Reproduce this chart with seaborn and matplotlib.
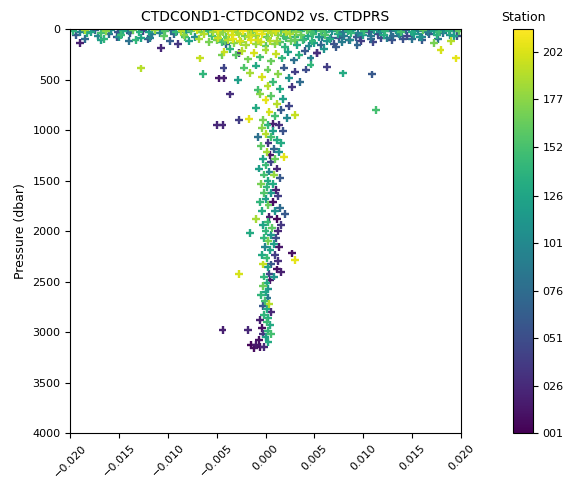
import numpy as np
import pandas as pd
import matplotlib
matplotlib.use("Agg")
import matplotlib.pyplot as plt
import seaborn as sns
from matplotlib.colors import Normalize
from matplotlib.cm import ScalarMappable

# ---- Surface layer (0-40 dbar) ----
surf_diff = [-0.0197, -0.0190, -0.0185, -0.0179, -0.0174, -0.0168, -0.0163, -0.0158, -0.0151, -0.0146,
             -0.0140, -0.0136, -0.0129, -0.0125, -0.0119, -0.0113, -0.0108, -0.0103, -0.0097, -0.0092,
             -0.0086, -0.0081, -0.0076, -0.0070, -0.0066, -0.0059, -0.0054, -0.0049, -0.0044, -0.0038,
             -0.0033, -0.0029, -0.0023, -0.0018, -0.0013, -0.0009, -0.0003, 0.0002, 0.0006, 0.0011,
             0.0016, 0.0021, 0.0026, 0.0031, 0.0036, 0.0042, 0.0047, 0.0052, 0.0057, 0.0062,
             0.0068, 0.0073, 0.0079, 0.0084, 0.0089, 0.0095, 0.0101, 0.0106, 0.0111, 0.0117,
             0.0122, 0.0128, 0.0133, 0.0139, 0.0144, 0.0150, 0.0156, 0.0161, 0.0166, 0.0172,
             0.0177, 0.0183, 0.0188, 0.0193, 0.0198]
surf_pres = [18, 30, 12, 25, 8, 34, 20, 10, 28, 15,
             22, 9, 31, 17, 26, 12, 35, 19, 8, 27,
             14, 30, 21, 10, 33, 16, 24, 7, 29, 18,
             12, 26, 20, 9, 31, 15, 23, 11, 28, 17,
             8, 25, 14, 32, 19, 10, 27, 13, 22, 30,
             16, 9, 26, 20, 12, 34, 18, 24, 10, 29,
             15, 21, 8, 27, 13, 33, 19, 11, 25, 17,
             30, 12, 22, 9, 20]
surf_stn = [140, 95, 185, 120, 70, 150, 175, 110, 60, 130,
            90, 165, 135, 45, 120, 180, 100, 155, 75, 140,
            190, 115, 160, 200, 170, 145, 185, 205, 175, 195,
            200, 180, 210, 190, 165, 205, 185, 195, 175, 200,
            160, 190, 145, 175, 130, 165, 150, 120, 155, 140,
            110, 150, 85, 135, 120, 95, 145, 60, 125, 105,
            140, 80, 115, 150, 70, 130, 100, 160, 90, 120,
            145, 110, 135, 80, 160]

# ---- Mixed layer (40-90 dbar) ----
mix_diff = [-0.0194, -0.0183, -0.0171, -0.0160, -0.0148, -0.0139, -0.0127, -0.0116, -0.0104, -0.0094,
            -0.0083, -0.0072, -0.0063, -0.0055, -0.0047, -0.0040, -0.0034, -0.0027, -0.0021, -0.0015,
            -0.0010, -0.0004, 0.0001, 0.0007, 0.0013, 0.0019, 0.0025, 0.0030, 0.0036, 0.0043,
            0.0049, 0.0055, 0.0061, 0.0067, 0.0074, 0.0080, 0.0087, 0.0093, 0.0100, 0.0108,
            0.0115, 0.0121, 0.0130, 0.0137, 0.0145, 0.0152, 0.0160, 0.0167, 0.0175, 0.0182,
            0.0189, 0.0196]
mix_pres = [55, 42, 70, 48, 62, 40, 85, 52, 66, 45,
            58, 75, 44, 68, 52, 80, 60, 47, 72, 55,
            64, 50, 78, 42, 60, 70, 48, 82, 56, 66,
            46, 74, 58, 88, 50, 64, 42, 76, 54, 68,
            48, 60, 72, 44, 66, 52, 80, 46, 62, 40,
            56, 70]
mix_stn = [60, 130, 100, 80, 145, 55, 125, 90, 160, 70,
           175, 105, 190, 150, 180, 165, 200, 185, 170, 195,
           180, 205, 160, 190, 175, 150, 185, 140, 165, 130,
           145, 110, 155, 70, 125, 90, 140, 60, 115, 85,
           50, 130, 75, 105, 45, 120, 95, 65, 135, 80,
           110, 55]

# ---- Base of mixed layer (70-130 dbar) ----
base_diff = [-0.0185, -0.0168, -0.0152, -0.0133, -0.0118, -0.0098, -0.0082, -0.0068, -0.0058, -0.0049,
             -0.0041, -0.0033, -0.0025, -0.0017, -0.0008, 0.0003, 0.0012, 0.0021, 0.0030, 0.0039,
             0.0048, 0.0058, 0.0066, 0.0075, 0.0086, 0.0097, 0.0108, 0.0124, 0.0141, 0.0158,
             0.0176, 0.0193]
base_pres = [95, 110, 80, 105, 90, 115, 75, 100, 130, 85,
             115, 95, 125, 80, 110, 90, 120, 85, 105, 95,
             115, 80, 100, 90, 110, 75, 95, 85, 100, 80,
             95, 70]
base_stn = [75, 120, 55, 140, 95, 65, 150, 185, 170, 195,
            160, 205, 180, 190, 200, 175, 185, 150, 165, 120,
            140, 85, 130, 60, 100, 45, 70, 90, 55, 110,
            85, 120]

# ---- Upper thermocline (90-950 dbar) ----
therm_diff = [-0.0050, -0.0045, -0.0038, -0.0032, -0.0026, -0.0020, -0.0015, -0.0010, -0.0005, 0.0000,
              0.0005, 0.0010, 0.0015, 0.0020, 0.0026, 0.0032, 0.0038, 0.0044, 0.0050, 0.0057,
              0.0063, 0.0070, 0.0078, 0.0085,
              -0.0036, -0.0030, -0.0024, -0.0018, -0.0012, -0.0006, 0.0000, 0.0006, 0.0011, 0.0017,
              0.0023, 0.0029, 0.0034, 0.0040, 0.0046, 0.0053, 0.0060, -0.0045,
              -0.0022, -0.0016, -0.0010, -0.0004, 0.0002, 0.0008, 0.0013, 0.0019, 0.0024, 0.0030,
              0.0035, 0.0041, -0.0028, 0.0002, 0.0015, -0.0008, 0.0027, 0.0046,
              -0.0006, 0.0000, 0.0006, 0.0012, 0.0018, 0.0024, -0.0010, 0.0004, 0.0010, 0.0016,
              0.0022, 0.0030, -0.0003, 0.0008, -0.0036]
therm_pres = [110, 130, 105, 140, 120, 160, 110, 145, 125, 170,
              115, 150, 130, 175, 120, 155, 110, 170, 135, 160,
              120, 145, 125, 110,
              200, 260, 220, 300, 240, 280, 210, 320, 250, 290,
              230, 310, 260, 220, 290, 240, 200, 260,
              380, 430, 360, 470, 400, 520, 440, 380, 480, 420,
              520, 400, 500, 560, 590, 600, 570, 350,
              640, 700, 660, 740, 690, 760, 780, 820, 860, 800,
              880, 850, 900, 940, 647]
therm_stn = [170, 150, 190, 175, 200, 185, 205, 180, 195, 160,
             190, 175, 155, 140, 165, 130, 145, 100, 120, 70,
             110, 55, 90, 65,
             140, 160, 190, 170, 200, 150, 185, 165, 195, 140,
             120, 80, 135, 60, 95, 30, 110, 170,
             155, 185, 130, 200, 165, 145, 175, 60, 110, 40,
             75, 50, 120, 190, 130, 150, 35, 140,
             175, 205, 160, 190, 120, 45, 130, 200, 150, 60,
             100, 195, 170, 20, 30]

# ---- Scattered outliers in the upper ocean ----
out_diff = [-0.0190, -0.0107, -0.0090, -0.0165, -0.0140, -0.0120, -0.0067, -0.0040, -0.0027, -0.0042,
            0.0053, 0.0063, 0.0072, 0.0094, 0.0110, 0.0129, 0.0150, 0.0172, 0.0179, 0.0195,
            0.0190, -0.0048, -0.0043, -0.0064, -0.0043, -0.0127, 0.0079, 0.0109, 0.0113, -0.0050,
            -0.0044, -0.0027, -0.0017, 0.0098, 0.0118, 0.0138, -0.0078, -0.0150, 0.0160]
out_pres = [140, 190, 150, 100, 120, 95, 290, 150, 238, 230,
            238, 376, 180, 160, 130, 110, 95, 140, 208, 290,
            120, 488, 488, 446, 383, 389, 439, 449, 802, 950,
            950, 900, 891, 120, 90, 70, 120, 80, 110]
out_stn = [20, 25, 35, 140, 80, 60, 195, 70, 30, 195,
           25, 40, 60, 70, 45, 55, 80, 170, 200, 205,
           190, 15, 20, 140, 45, 190, 130, 60, 150, 25,
           25, 40, 205, 40, 50, 65, 120, 110, 60]

# ---- Deep water column (950-3160 dbar) ----
deep_diff = [0.0002, 0.0014, -0.0004, 0.0008, 0.0018, 0.0000, 0.0006, -0.0008, 0.0012, 0.0003,
             0.0016, -0.0005, 0.0009, 0.0001, 0.0014, 0.0005, 0.0019, -0.0003, 0.0010, 0.0006,
             0.0000, 0.0012, -0.0007, 0.0004, 0.0009, -0.0002, 0.0015, 0.0002, -0.0005, 0.0008,
             0.0001, 0.0011, -0.0002, 0.0006, 0.0013, 0.0000, 0.0008, -0.0006, 0.0003, 0.0015,
             -0.0004, 0.0010, 0.0020, 0.0004, -0.0010, 0.0012, 0.0002, 0.0016, -0.0003, 0.0007,
             0.0000, 0.0013, -0.0016, 0.0006, 0.0011, -0.0002, 0.0003, 0.0009, -0.0001, 0.0014,
             0.0005, 0.0027, 0.0010, -0.0004, 0.0030, 0.0001, 0.0013, -0.0003, 0.0006, 0.0002,
             0.0012, 0.0016, -0.0027, 0.0004, -0.0002, 0.0009, 0.0005, 0.0001, -0.0003, 0.0003,
             0.0000, -0.0005, 0.0002, -0.0001, 0.0004, -0.0003, 0.0001, 0.0006, -0.0002, 0.0003,
             -0.0006, 0.0001, 0.0005, -0.0004, -0.0044, -0.0018, 0.0002, -0.0003, 0.0006, 0.0000,
             -0.0007, 0.0003, -0.0015, -0.0010, -0.0006, -0.0002, -0.0012]
deep_pres = [950, 950, 980, 1010, 1010, 1040, 1070, 1070, 1100, 1130,
             1130, 1160, 1190, 1220, 1220, 1250, 1267, 1290, 1290, 1320,
             1350, 1380, 1380, 1410, 1440, 1440, 1470, 1500, 1530, 1530,
             1560, 1590, 1620, 1620, 1650, 1680, 1710, 1710, 1740, 1770,
             1800, 1800, 1830, 1860, 1880, 1880, 1910, 1940, 1940, 1970,
             2000, 2000, 2020, 2040, 2070, 2070, 2100, 2130, 2160, 2160,
             2190, 2221, 2240, 2240, 2287, 2270, 2300, 2330, 2330, 2360,
             2380, 2403, 2425, 2420, 2450, 2450, 2480, 2510, 2540, 2570,
             2600, 2630, 2660, 2690, 2720, 2740, 2770, 2800, 2830, 2860,
             2880, 2900, 2930, 2960, 2980, 2980, 2990, 3020, 3020, 3050,
             3080, 3100, 3130, 3130, 3150, 3150, 3160]
deep_stn = [140, 30, 175, 120, 55, 190, 150, 80, 130, 35,
            130, 160, 70, 185, 110, 15, 205, 125, 165, 45,
            145, 25, 120, 100, 180, 150, 60, 130, 170, 130,
            140, 20, 155, 115, 40, 120, 10, 140, 165, 75,
            130, 110, 60, 20, 185, 5, 145, 35, 125, 160,
            140, 25, 130, 115, 50, 140, 170, 120, 100, 15,
            125, 10, 40, 130, 205, 145, 30, 195, 60, 120,
            10, 20, 200, 45, 140, 110, 15, 130, 165, 110,
            125, 140, 85, 150, 190, 60, 130, 25, 140, 135,
            20, 145, 130, 10, 20, 25, 140, 35, 150, 120,
            10, 130, 5, 15, 10, 25, 8]

df = pd.DataFrame({
    "diff": surf_diff + mix_diff + base_diff + therm_diff + out_diff + deep_diff,
    "pres": surf_pres + mix_pres + base_pres + therm_pres + out_pres + deep_pres,
    "stn": surf_stn + mix_stn + base_stn + therm_stn + out_stn + deep_stn,
})
df = df.sort_values("stn", kind="stable")

stn_min, stn_max = 1, 214
cbar_ticks = [1, 26, 51, 76, 101, 126, 152, 177, 202]

fig = plt.figure(figsize=(5.65, 4.78), dpi=100)
ax = fig.add_axes([0.124, 0.094, 0.692, 0.845])
cax = fig.add_axes([0.908, 0.094, 0.035, 0.845])

norm = Normalize(vmin=stn_min, vmax=stn_max)
sns.scatterplot(data=df, x="diff", y="pres", hue="stn", palette="viridis",
                hue_norm=norm, marker="+", s=32, linewidth=1.7,
                legend=False, ax=ax)

ax.set_xlim(-0.02, 0.02)
ax.set_ylim(4000, 0)
ax.set_xticks(np.linspace(-0.02, 0.02, 9))
ax.set_xticklabels([f"{v:.3f}".replace("-", "\u2212") for v in np.linspace(-0.02, 0.02, 9)],
                   rotation=45, fontsize=8)
ax.set_yticks(range(0, 4001, 500))
ax.tick_params(axis="y", labelsize=8)
ax.set_xlabel("")
ax.set_ylabel("Pressure (dbar)", fontsize=9)
ax.set_title("CTDCOND1-CTDCOND2 vs. CTDPRS", fontsize=10)

sm = ScalarMappable(norm=norm, cmap="viridis")
cb = fig.colorbar(sm, cax=cax, ticks=cbar_ticks)
cb.ax.set_yticklabels([f"{t:03d}" for t in cbar_ticks], fontsize=8)
cax.set_title("Station", fontsize=9)

fig.savefig("out.png", dpi=100)
